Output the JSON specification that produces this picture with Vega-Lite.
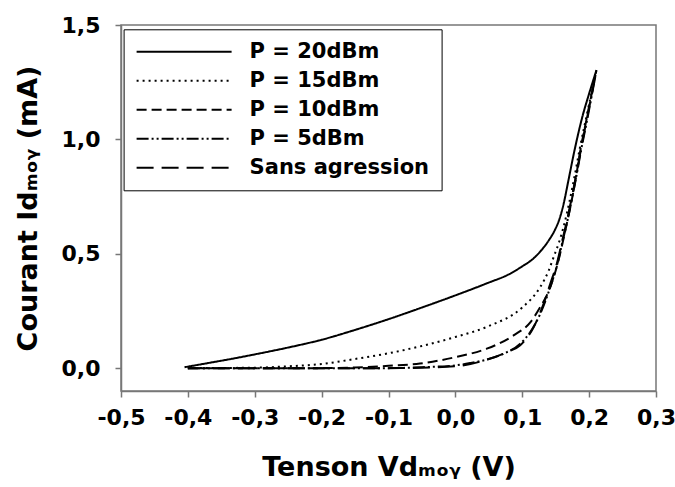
{
  "$schema": "https://vega.github.io/schema/vega-lite/v6.json",
  "width": 535,
  "height": 366,
  "autosize": {"type": "none"},
  "padding": {"left": 121, "top": 25, "right": 19, "bottom": 96},
  "background": "white",
  "config": {
    "view": {"stroke": "#777777", "strokeWidth": 1.5},
    "font": "DejaVu Sans",
    "axis": {
      "domainColor": "#777777",
      "domainWidth": 1.5,
      "tickColor": "#777777",
      "tickWidth": 1.5,
      "tickSize": 6,
      "grid": false,
      "labelOverlap": false,
      "labelBound": false,
      "labelFlush": false,
      "labelFont": "DejaVu Sans",
      "labelFontWeight": "bold",
      "labelFontSize": 22,
      "labelColor": "black",
      "titleFont": "DejaVu Sans",
      "titleFontWeight": "bold",
      "titleFontSize": 27,
      "titleColor": "black"
    },
    "legend": {
      "orient": "none",
      "legendX": 2.6,
      "legendY": 4.3,
      "strokeColor": "black",
      "fillColor": "white",
      "padding": 12,
      "symbolType": "M-1,0H9",
      "symbolSize": 361,
      "symbolStrokeWidth": 2,
      "symbolStrokeColor": "black",
      "labelFont": "DejaVu Sans",
      "labelFontWeight": "bold",
      "labelFontSize": 21,
      "labelColor": "black",
      "labelOffset": 93,
      "rowPadding": 7,
      "labelLimit": 400
    }
  },
  "data": {
    "values": [
      {"serie": "P = 20dBm", "v": -0.405, "i": 0.004},
      {"serie": "P = 20dBm", "v": -0.37, "i": 0.022},
      {"serie": "P = 20dBm", "v": -0.33, "i": 0.043},
      {"serie": "P = 20dBm", "v": -0.3, "i": 0.06},
      {"serie": "P = 20dBm", "v": -0.25, "i": 0.09},
      {"serie": "P = 20dBm", "v": -0.2, "i": 0.124},
      {"serie": "P = 20dBm", "v": -0.15, "i": 0.167},
      {"serie": "P = 20dBm", "v": -0.1, "i": 0.214},
      {"serie": "P = 20dBm", "v": -0.05, "i": 0.265},
      {"serie": "P = 20dBm", "v": 0.0, "i": 0.318},
      {"serie": "P = 20dBm", "v": 0.05, "i": 0.374},
      {"serie": "P = 20dBm", "v": 0.08, "i": 0.41},
      {"serie": "P = 20dBm", "v": 0.1, "i": 0.445},
      {"serie": "P = 20dBm", "v": 0.115, "i": 0.475},
      {"serie": "P = 20dBm", "v": 0.127, "i": 0.51},
      {"serie": "P = 20dBm", "v": 0.14, "i": 0.56},
      {"serie": "P = 20dBm", "v": 0.149, "i": 0.605},
      {"serie": "P = 20dBm", "v": 0.156, "i": 0.655},
      {"serie": "P = 20dBm", "v": 0.162, "i": 0.72},
      {"serie": "P = 20dBm", "v": 0.169, "i": 0.82},
      {"serie": "P = 20dBm", "v": 0.178, "i": 0.95},
      {"serie": "P = 20dBm", "v": 0.19, "i": 1.1},
      {"serie": "P = 20dBm", "v": 0.2, "i": 1.2},
      {"serie": "P = 20dBm", "v": 0.211, "i": 1.303},

      {"serie": "P = 15dBm", "v": -0.4, "i": 0.0},
      {"serie": "P = 15dBm", "v": -0.3, "i": 0.002},
      {"serie": "P = 15dBm", "v": -0.25, "i": 0.008},
      {"serie": "P = 15dBm", "v": -0.2, "i": 0.018},
      {"serie": "P = 15dBm", "v": -0.15, "i": 0.04},
      {"serie": "P = 15dBm", "v": -0.1, "i": 0.065},
      {"serie": "P = 15dBm", "v": -0.05, "i": 0.097},
      {"serie": "P = 15dBm", "v": 0.0, "i": 0.136},
      {"serie": "P = 15dBm", "v": 0.05, "i": 0.184},
      {"serie": "P = 15dBm", "v": 0.1, "i": 0.265},
      {"serie": "P = 15dBm", "v": 0.127, "i": 0.355},
      {"serie": "P = 15dBm", "v": 0.14, "i": 0.43},
      {"serie": "P = 15dBm", "v": 0.147, "i": 0.486},
      {"serie": "P = 15dBm", "v": 0.155, "i": 0.55},
      {"serie": "P = 15dBm", "v": 0.162, "i": 0.62},
      {"serie": "P = 15dBm", "v": 0.17, "i": 0.72},
      {"serie": "P = 15dBm", "v": 0.179, "i": 0.85},
      {"serie": "P = 15dBm", "v": 0.186, "i": 0.96},
      {"serie": "P = 15dBm", "v": 0.196, "i": 1.1},
      {"serie": "P = 15dBm", "v": 0.211, "i": 1.303},

      {"serie": "P = 10dBm", "v": -0.4, "i": 0.0},
      {"serie": "P = 10dBm", "v": -0.2, "i": 0.0},
      {"serie": "P = 10dBm", "v": -0.15, "i": 0.003},
      {"serie": "P = 10dBm", "v": -0.1, "i": 0.01},
      {"serie": "P = 10dBm", "v": -0.053, "i": 0.02},
      {"serie": "P = 10dBm", "v": 0.0, "i": 0.048},
      {"serie": "P = 10dBm", "v": 0.047, "i": 0.085},
      {"serie": "P = 10dBm", "v": 0.087, "i": 0.143},
      {"serie": "P = 10dBm", "v": 0.112, "i": 0.2},
      {"serie": "P = 10dBm", "v": 0.127, "i": 0.267},
      {"serie": "P = 10dBm", "v": 0.137, "i": 0.32},
      {"serie": "P = 10dBm", "v": 0.147, "i": 0.398},
      {"serie": "P = 10dBm", "v": 0.155, "i": 0.48},
      {"serie": "P = 10dBm", "v": 0.162, "i": 0.57},
      {"serie": "P = 10dBm", "v": 0.168, "i": 0.65},
      {"serie": "P = 10dBm", "v": 0.174, "i": 0.734},
      {"serie": "P = 10dBm", "v": 0.18, "i": 0.83},
      {"serie": "P = 10dBm", "v": 0.187, "i": 0.953},
      {"serie": "P = 10dBm", "v": 0.197, "i": 1.1},
      {"serie": "P = 10dBm", "v": 0.211, "i": 1.303},

      {"serie": "P = 5dBm", "v": -0.4, "i": 0.0},
      {"serie": "P = 5dBm", "v": -0.1, "i": 0.0},
      {"serie": "P = 5dBm", "v": -0.05, "i": 0.004},
      {"serie": "P = 5dBm", "v": 0.0, "i": 0.012},
      {"serie": "P = 5dBm", "v": 0.022, "i": 0.022},
      {"serie": "P = 5dBm", "v": 0.05, "i": 0.04},
      {"serie": "P = 5dBm", "v": 0.072, "i": 0.063},
      {"serie": "P = 5dBm", "v": 0.097, "i": 0.107},
      {"serie": "P = 5dBm", "v": 0.112, "i": 0.158},
      {"serie": "P = 5dBm", "v": 0.127, "i": 0.238},
      {"serie": "P = 5dBm", "v": 0.142, "i": 0.355},
      {"serie": "P = 5dBm", "v": 0.152, "i": 0.45},
      {"serie": "P = 5dBm", "v": 0.16, "i": 0.55},
      {"serie": "P = 5dBm", "v": 0.168, "i": 0.65},
      {"serie": "P = 5dBm", "v": 0.175, "i": 0.75},
      {"serie": "P = 5dBm", "v": 0.181, "i": 0.84},
      {"serie": "P = 5dBm", "v": 0.188, "i": 0.953},
      {"serie": "P = 5dBm", "v": 0.198, "i": 1.1},
      {"serie": "P = 5dBm", "v": 0.211, "i": 1.303},

      {"serie": "Sans agression", "v": -0.4, "i": 0.0},
      {"serie": "Sans agression", "v": -0.1, "i": 0.0},
      {"serie": "Sans agression", "v": 0.0, "i": 0.008},
      {"serie": "Sans agression", "v": 0.047, "i": 0.037},
      {"serie": "Sans agression", "v": 0.077, "i": 0.07},
      {"serie": "Sans agression", "v": 0.097, "i": 0.1},
      {"serie": "Sans agression", "v": 0.117, "i": 0.179},
      {"serie": "Sans agression", "v": 0.132, "i": 0.282},
      {"serie": "Sans agression", "v": 0.142, "i": 0.37},
      {"serie": "Sans agression", "v": 0.152, "i": 0.46},
      {"serie": "Sans agression", "v": 0.16, "i": 0.56},
      {"serie": "Sans agression", "v": 0.168, "i": 0.66},
      {"serie": "Sans agression", "v": 0.175, "i": 0.76},
      {"serie": "Sans agression", "v": 0.181, "i": 0.85},
      {"serie": "Sans agression", "v": 0.188, "i": 0.96},
      {"serie": "Sans agression", "v": 0.198, "i": 1.11},
      {"serie": "Sans agression", "v": 0.211, "i": 1.303}
    ]
  },
  "mark": {"type": "line", "color": "black", "strokeWidth": 2, "strokeCap": "butt", "interpolate": "monotone", "clip": true},
  "encoding": {
    "x": {
      "field": "v",
      "type": "quantitative",
      "scale": {"domain": [-0.5, 0.3], "nice": false, "zero": false},
      "axis": {
        "values": [-0.5, -0.4, -0.3, -0.2, -0.1, 0, 0.1, 0.2, 0.3],
        "labelExpr": "(datum.value < -0.001 ? '-' : '') + replace(format(abs(datum.value), '.1f'), '.', ',')",
        "labelPadding": 10,
        "title": "Tenson Vdₘₒᵧ (V)",
        "titlePadding": 26
      }
    },
    "y": {
      "field": "i",
      "type": "quantitative",
      "scale": {"domain": [-0.1, 1.5], "nice": false, "zero": false},
      "axis": {
        "values": [0, 0.5, 1, 1.5],
        "labelExpr": "replace(format(datum.value, '.1f'), '.', ',')",
        "labelPadding": 15,
        "title": "Courant Idₘₒᵧ (mA)",
        "titlePadding": 19
      }
    },
    "strokeDash": {
      "field": "serie",
      "type": "nominal",
      "scale": {
        "domain": ["P = 20dBm", "P = 15dBm", "P = 10dBm", "P = 5dBm", "Sans agression"],
        "range": [[1, 0], [2, 4], [10, 5], [12, 3, 2, 3, 2, 3], [17, 8]]
      },
      "legend": {"title": null}
    }
  }
}
